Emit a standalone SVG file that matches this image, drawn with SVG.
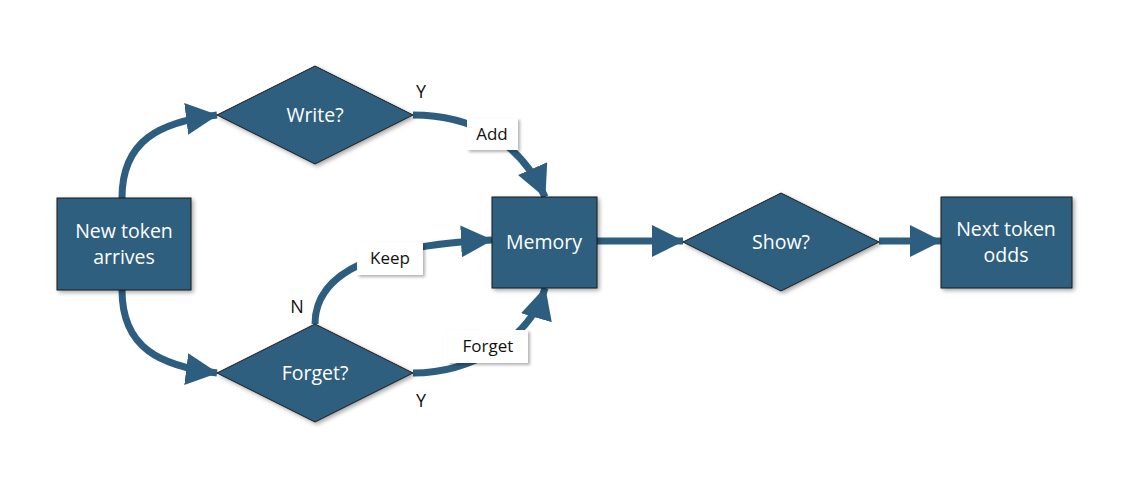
<svg xmlns="http://www.w3.org/2000/svg" width="1134" height="491" viewBox="0 0 1134 491">
<style>
.node{fill:#2E5E7F;stroke:#1b1b1b;stroke-width:1;filter:url(#sh)}
.nt{fill:#fff;font-family:"Open Sans","Liberation Sans",sans-serif;font-size:19.5px;text-anchor:middle}
.conn{fill:none;stroke:#2E5E7F;stroke-width:7;marker-end:url(#ah)}
.lbl{fill:#fff;filter:url(#sh2)}
.lt{fill:#111;font-family:"Open Sans","Liberation Sans",sans-serif;font-size:17px;text-anchor:middle}
.yn{fill:#111;font-family:"Open Sans","Liberation Sans",sans-serif;font-size:18px;text-anchor:middle}
</style>
<defs>
<filter id="sh" x="-20%" y="-20%" width="140%" height="140%"><feDropShadow dx="2" dy="2" stdDeviation="2" flood-color="#000" flood-opacity="0.35"/></filter>
<filter id="sh2" x="-20%" y="-20%" width="140%" height="140%"><feDropShadow dx="2" dy="2" stdDeviation="1.5" flood-color="#000" flood-opacity="0.3"/></filter>
<marker id="ah" markerUnits="userSpaceOnUse" viewBox="0 0 32 32" markerWidth="32" markerHeight="32" refX="31" refY="16" orient="auto"><path d="M0,0 L32,16 L0,32 z" fill="#2E5E7F"/></marker>
</defs>
<rect width="1134" height="491" fill="#fff"/>
<g id="connectors">
<path class="conn" d="M122,198 C122,140 160,122 217,115"/>
<path class="conn" d="M122,290 C122,348 160,366 217,373"/>
<path class="conn" d="M413,115 C470,115 520,140 545,197"/>
<path class="conn" d="M315,324 C315,270 380,245 492,240"/>
<path class="conn" d="M413,373 C470,373 530,340 545,288"/>
<path class="conn" d="M597,241 L683,241"/>
<path class="conn" d="M879,241 L941,241"/>
<g id="labels">
<rect class="lbl" x="467" y="118" width="51" height="32"/>
<text class="lt" x="492" y="140">Add</text>
<rect class="lbl" x="357" y="242" width="66" height="33"/>
<text class="lt" x="390" y="264">Keep</text>
<rect class="lbl" x="448" y="330" width="80" height="33"/>
<text class="lt" x="488" y="352">Forget</text>
<text class="yn" x="421" y="98">Y</text>
<text class="yn" x="297" y="313">N</text>
<text class="yn" x="421" y="407">Y</text>
</g>
</g>
<g id="new-token">
<rect class="node" x="57" y="198" width="134" height="92"/>
<text class="nt" x="124" y="238">New token</text>
<text class="nt" x="124" y="264">arrives</text>
</g>
<g id="write">
<polygon class="node" points="217,115 315,66 413,115 315,164"/>
<text class="nt" x="315" y="122">Write?</text>
</g>
<g id="forget">
<polygon class="node" points="217,373 315,324 413,373 315,422"/>
<text class="nt" x="315" y="380">Forget?</text>
</g>
<g id="memory">
<rect class="node" x="492" y="197" width="105" height="91"/>
<text class="nt" x="544" y="249">Memory</text>
</g>
<g id="show">
<polygon class="node" points="683,242 781,193 879,242 781,291"/>
<text class="nt" x="781" y="249">Show?</text>
</g>
<g id="next">
<rect class="node" x="941" y="197" width="131" height="91"/>
<text class="nt" x="1006" y="236">Next token</text>
<text class="nt" x="1006" y="262">odds</text>
</g>
</svg>
